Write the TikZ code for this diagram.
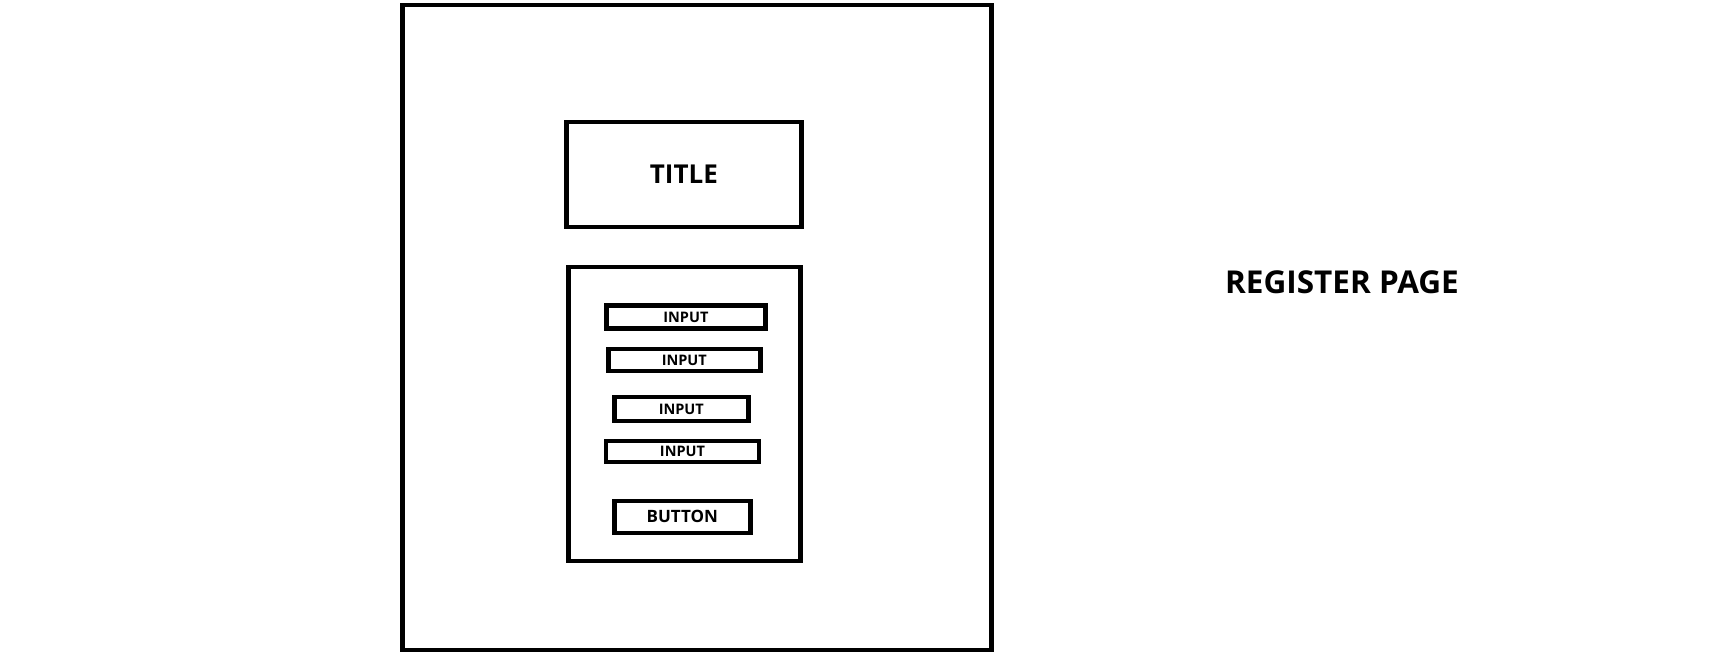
\documentclass[tikz,border=0pt]{standalone}
\usepackage{fontspec}
\setmainfont{Open Sans}
\begin{document}
\begin{tikzpicture}[x=1pt,y=-1pt,
        box/.style={draw, line width=4.6pt, rectangle, inner sep=0pt, font=\bfseries},
        field/.style={box, font=\bfseries\fontsize{14.5}{16}\selectfont}]
        \useasboundingbox(0,0)rectangle(1733,657);
        \node[box, minimum width=589pt, minimum height=645pt](frame)at(697,327.4){};
        \node[box, minimum width=235pt, minimum height=105pt, font=\bfseries\fontsize{26}{29}\selectfont](title)at(683.9,174.3){TITLE};
        \node[box, minimum width=232pt, minimum height=294pt](form)at(684.5,413.8){};
        \node[field, minimum width=159pt, minimum height=23pt](in1)at(685.9,316.9){INPUT};
        \node[field, minimum width=152pt, minimum height=22pt](in2)at(684.3,359.9){INPUT};
        \node[field, minimum width=134pt, minimum height=24pt](in3)at(681.3,408.9){INPUT};
        \node[field, minimum width=153pt, minimum height=21pt](in4)at(682.5,451.4){INPUT};
        \node[box, minimum width=136pt, minimum height=32pt, font=\bfseries\fontsize{17}{19}\selectfont](btn)at(682.3,516.9){BUTTON};
        \node[font=\bfseries\fontsize{31.5}{34}\selectfont](caption)at(1342,282.7){REGISTER PAGE};
    \end{tikzpicture}
\end{document}
